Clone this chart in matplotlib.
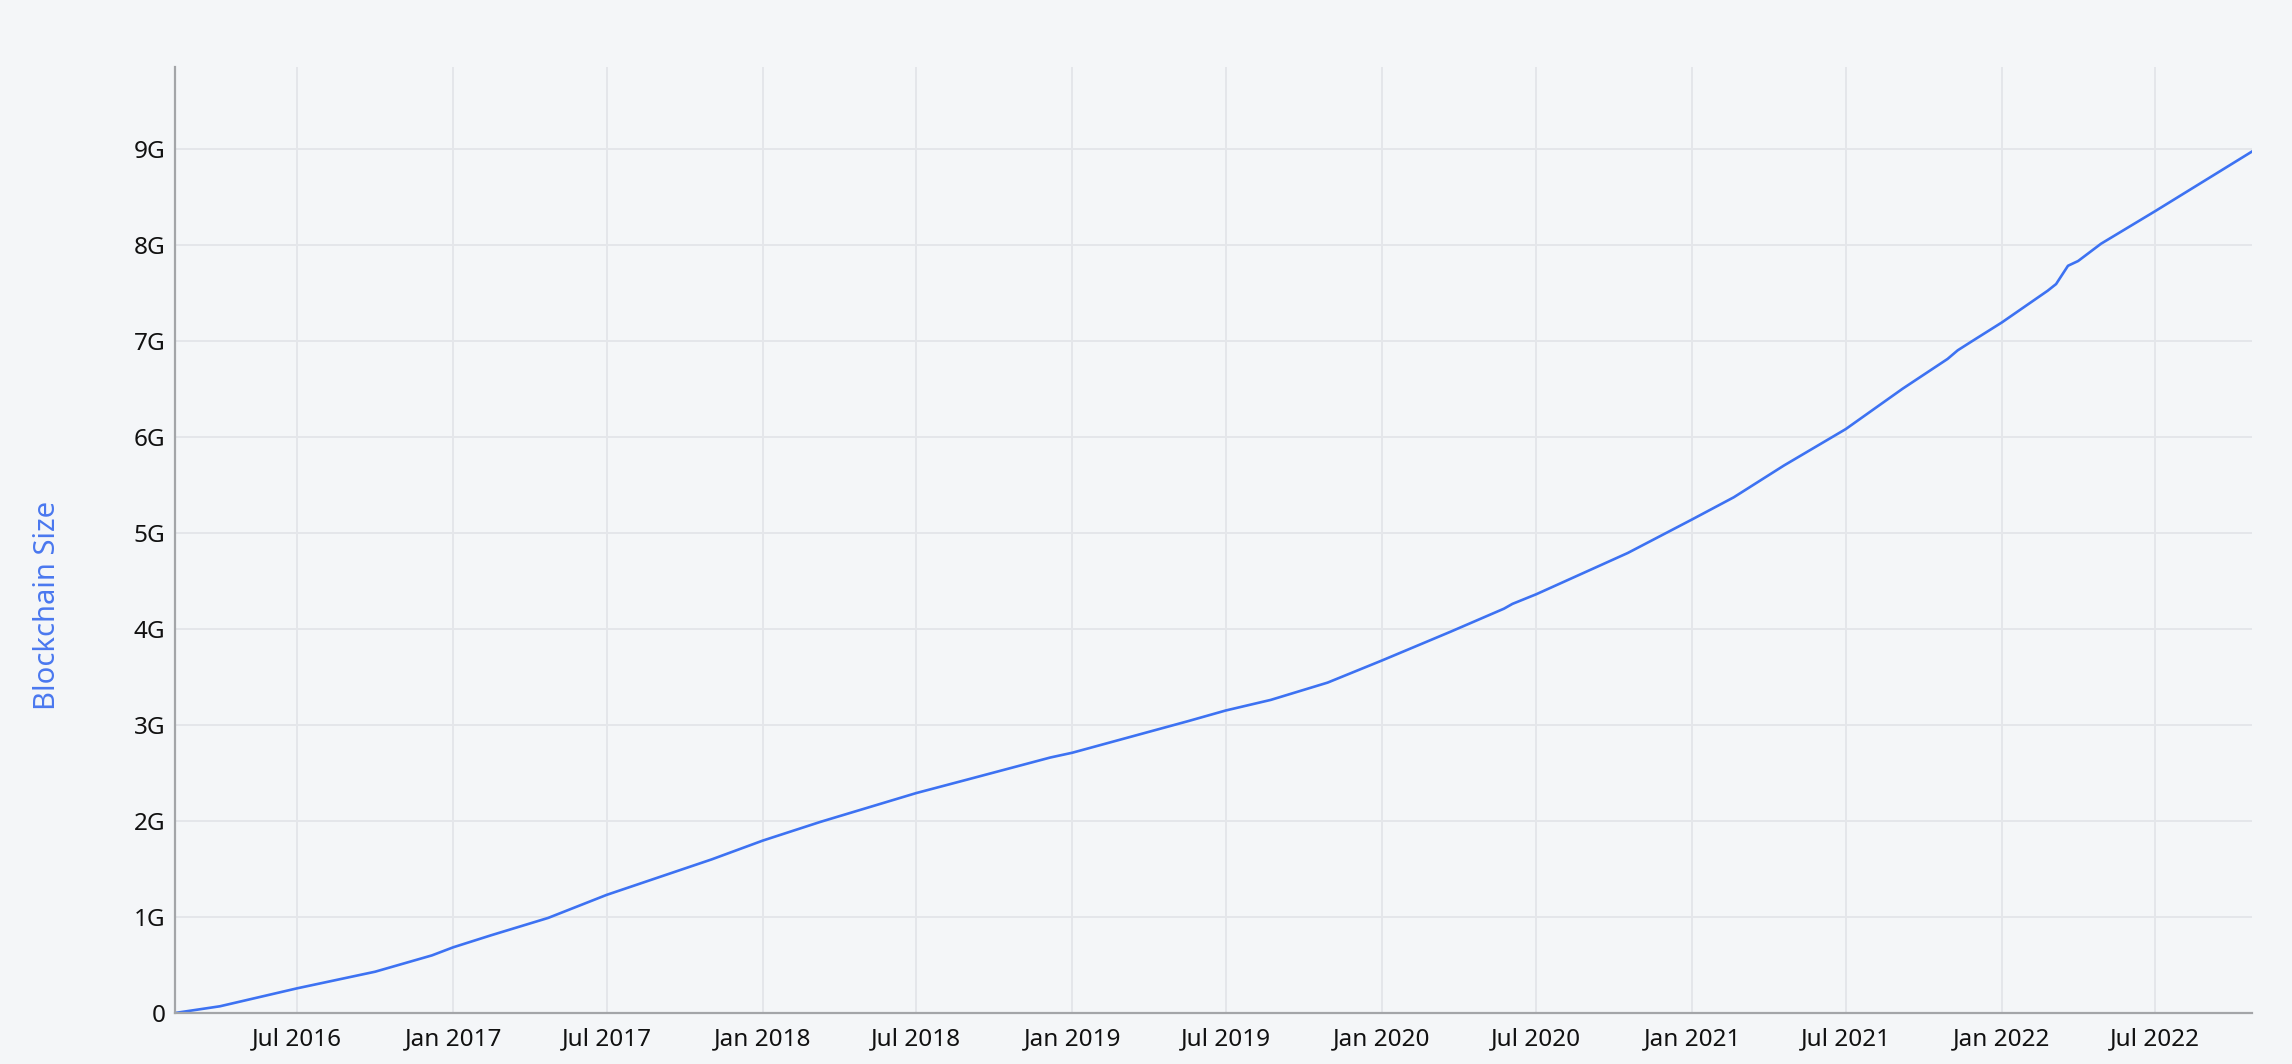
import pandas as pd
import matplotlib
matplotlib.use("Agg")
import matplotlib.pyplot as plt
import matplotlib.dates as mdates
from matplotlib.ticker import FuncFormatter

dates = [
    "2016-02-08", "2016-04-01", "2016-07-01", "2016-10-01", "2016-12-07",
    "2017-01-01", "2017-02-15", "2017-04-23", "2017-07-01", "2017-11-02",
    "2018-01-01", "2018-03-10", "2018-07-01", "2018-08-30", "2018-12-06",
    "2019-01-01", "2019-05-18", "2019-07-01", "2019-08-23", "2019-10-29",
    "2020-01-01", "2020-03-22", "2020-05-24", "2020-06-03", "2020-07-01",
    "2020-10-17", "2021-01-01", "2021-02-19", "2021-04-19", "2021-07-01",
    "2021-09-06", "2021-10-29", "2021-11-10", "2021-11-26", "2022-01-01",
    "2022-02-24", "2022-03-06", "2022-03-20", "2022-04-01", "2022-04-28",
    "2022-07-01", "2022-10-23",
]
size_gb = [
    0.0, 0.07, 0.257, 0.43, 0.60,
    0.684, 0.81, 0.99, 1.23, 1.60,
    1.795, 1.99, 2.29, 2.43, 2.66,
    2.71, 3.04, 3.15, 3.26, 3.44,
    3.67, 3.97, 4.21, 4.26, 4.36,
    4.79, 5.14, 5.37, 5.70, 6.08,
    6.50, 6.81, 6.90, 6.99, 7.19,
    7.52, 7.59, 7.78, 7.83, 8.01,
    8.35, 8.97,
]
y_ticks = [0, 1, 2, 3, 4, 5, 6, 7, 8, 9]

bg = "#f4f6f8"
line_color = "#3d72f2"

plt.rcParams["font.family"] = ["Noto Sans", "DejaVu Sans"]

x = pd.to_datetime(dates)
y = [v * 1e9 for v in size_gb]

fig = plt.figure(figsize=(22.92, 10.64), dpi=100, facecolor=bg)
ax = fig.add_axes([175 / 2292, 1 - 1013 / 1064, (2252 - 175) / 2292, (1013 - 67) / 1064])
ax.set_facecolor(bg)

ax.plot(x, y, color=line_color, lw=1.9, zorder=3)

ax.set_xlim(pd.Timestamp("2016-02-08"), pd.Timestamp("2022-10-23"))
ax.set_ylim(0, 9.85e9)

ax.xaxis.set_major_locator(mdates.MonthLocator(bymonth=[1, 7]))
ax.xaxis.set_major_formatter(mdates.DateFormatter("%b %Y"))
ax.set_yticks([t * 1e9 for t in y_ticks])
ax.yaxis.set_major_formatter(FuncFormatter(lambda v, p: "0" if v == 0 else f"{v / 1e9:.0f}G"))

ax.grid(True, color="#e4e6ea", lw=1.4, zorder=0)
ax.tick_params(axis="both", length=0, labelsize=17.5, colors="#111111")
ax.tick_params(axis="x", pad=10)
ax.tick_params(axis="y", pad=7)

for s in ["top", "right"]:
    ax.spines[s].set_visible(False)
for s in ["left", "bottom"]:
    ax.spines[s].set_color("#a3a5a8")
    ax.spines[s].set_linewidth(1.6)
    ax.spines[s].set_zorder(4)

fig.text(48 / 2292, 1 - 605 / 1064, "Blockchain Size", rotation=90,
         ha="center", va="center", fontsize=21, color="#4a78ef")

fig.savefig("out.png", dpi=100, facecolor=bg)
